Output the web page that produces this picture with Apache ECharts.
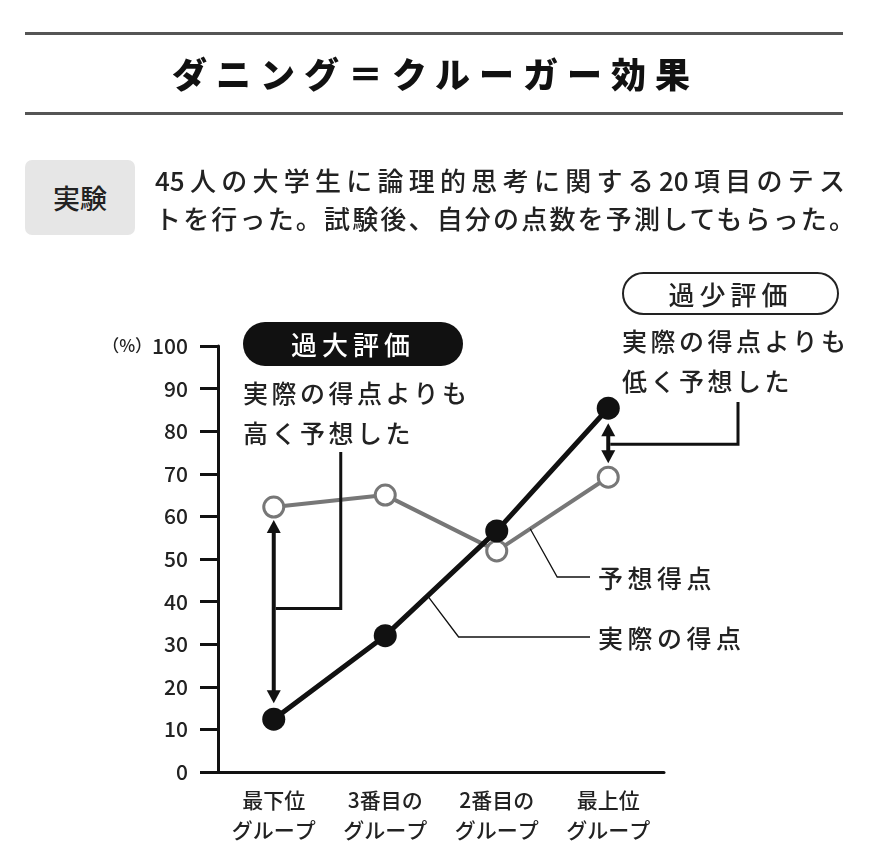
<!DOCTYPE html>
<html>
<head>
    <meta charset="utf-8" />
    <title>ダニング＝クルーガー効果</title>
    <script src="https://cdn.jsdelivr.net/npm/echarts@6/dist/echarts.min.js"></script>
    <style>
        body { margin: 0; background: #fff; }
        #wrap { position: relative; width: 870px; height: 862px; font-family: "Noto Sans CJK JP", sans-serif; color: #222; font-weight: 500; }
        #main { position: absolute; left: 0; top: 0; width: 870px; height: 862px; }
        .hline { position: absolute; left: 25px; width: 818px; height: 3px; background: #555; }
        .txt { position: absolute; white-space: nowrap; pointer-events: none; }
        .just { text-align: justify; text-align-last: justify; }
        #title { left: 172px; top: 51px; width: 518px; font-size: 35px; line-height: 44px; font-weight: 900; color: #111; }
        #expBox { position: absolute; left: 25px; top: 160px; width: 110px; height: 75px; background: #e6e6e6; border-radius: 7px;
                  font-size: 27px; line-height: 75px; text-align: center; }
        .desc { left: 155px; font-size: 26px; line-height: 38px; }
        .note { font-size: 25px; line-height: 36px; letter-spacing: 3.5px; }
        .pill { position: absolute; font-size: 26px; text-align: center; letter-spacing: 5px; box-sizing: border-box; }
        #over { left: 243px; top: 322px; width: 220px; height: 44px; line-height: 44px; background: #111; color: #fff; border-radius: 22px; }
        #under { left: 622px; top: 272px; width: 217px; height: 43px; line-height: 39px; background: #fff; border: 2px solid #222; border-radius: 22px; }
        .lab { font-size: 25px; line-height: 34px; letter-spacing: 4.5px; }
    </style>
</head>
<body>
<div id="wrap">
    <div id="main"></div>
    <div class="hline" style="top:32px"></div>
    <div class="hline" style="top:112px"></div>
    <div id="title" class="txt just">ダニング＝クルーガー効果</div>
    <div id="expBox">実験</div>
    <div class="txt desc just" style="top:161px;width:690px">45人の大学生に論理的思考に関する20項目のテス</div>
    <div class="txt desc just" style="top:199px;width:700px">トを行った。試験後、自分の点数を予測してもらった。</div>
    <div id="over" class="pill">過大評価</div>
    <div class="txt note" style="left:243px;top:374px">実際の得点よりも</div>
    <div class="txt note" style="left:243px;top:414px">高く予想した</div>
    <div id="under" class="pill">過少評価</div>
    <div class="txt note" style="left:622px;top:322px">実際の得点よりも</div>
    <div class="txt note" style="left:622px;top:362px">低く予想した</div>
    <div class="txt lab" style="left:598px;top:560px">予想得点</div>
    <div class="txt lab" style="left:598px;top:620px">実際の得点</div>
</div>
<script>
    // データ
    var categories = ['最下位\nグループ', '3番目の\nグループ', '2番目の\nグループ', '最上位\nグループ'];
    var actualScores = [12.4, 32.0, 56.6, 85.4];     // 実際の得点
    var predictedScores = [62.2, 65.0, 51.9, 69.2];  // 予想得点
    var yMin = 0, yMax = 100, yStep = 10;

    var chart = echarts.init(document.getElementById('main'));
    var font = '"Noto Sans CJK JP", sans-serif';

    chart.setOption({
        animation: false,
        grid: { left: 218, top: 346, width: 446, height: 426 },
        xAxis: [{
            type: 'category',
            data: categories,
            boundaryGap: true,
            axisLine: { lineStyle: { color: '#111', width: 3 } },
            axisTick: { alignWithLabel: true, length: 8, lineStyle: { color: '#111', width: 3 } },
            axisLabel: { margin: 13, fontSize: 21, lineHeight: 30, fontWeight: 500, color: '#222', fontFamily: font }
        }, {
            // 内側の目盛り
            type: 'category',
            data: categories,
            position: 'bottom',
            axisLine: { show: false },
            axisTick: { inside: true, alignWithLabel: true, length: 10, lineStyle: { color: '#111', width: 3 } },
            axisLabel: { show: false }
        }],
        yAxis: {
            type: 'value',
            min: yMin, max: yMax, interval: yStep,
            splitLine: { show: false },
            axisLine: { show: true, lineStyle: { color: '#111', width: 3 } },
            axisTick: { show: true, length: 18, lineStyle: { color: '#111', width: 3 } },
            axisLabel: {
                margin: 30, fontSize: 21, fontWeight: 500, color: '#222', fontFamily: font,
                formatter: function (v) { return v === yMax ? '{u|（%）}' + v : v; },
                rich: { u: { fontSize: 17, fontWeight: 500, color: '#222', fontFamily: font } }
            }
        },
        series: [{
            name: '予想得点',
            type: 'line',
            data: predictedScores,
            symbol: 'circle',
            symbolSize: 20,
            lineStyle: { color: '#777', width: 4 },
            itemStyle: { color: '#fff', borderColor: '#777', borderWidth: 3 },
            z: 3
        }, {
            name: '実際の得点',
            type: 'line',
            data: actualScores,
            symbol: 'circle',
            symbolSize: 23,
            lineStyle: { color: '#111', width: 5 },
            itemStyle: { color: '#111' },
            z: 4
        }]
    });

    // 注釈（矢印・引き出し線）
    function px(i, v) { return chart.convertToPixel({ gridIndex: 0 }, [i, v]); }
    function along(a, b, t) { return [a[0] + (b[0] - a[0]) * t, a[1] + (b[1] - a[1]) * t]; }
    function dblArrow(x, yTop, yBot) {
        var h = 13, w = 7;
        return [
            { type: 'line', z: 50, shape: { x1: x, y1: yTop + h - 2, x2: x, y2: yBot - h + 2 }, style: { stroke: '#111', lineWidth: 4 } },
            { type: 'polygon', z: 50, shape: { points: [[x, yTop], [x - w, yTop + h], [x + w, yTop + h]] }, style: { fill: '#111' } },
            { type: 'polygon', z: 50, shape: { points: [[x, yBot], [x - w, yBot - h], [x + w, yBot - h]] }, style: { fill: '#111' } }
        ];
    }
    function poly(points, width) {
        return { type: 'polyline', z: 50, shape: { points: points }, style: { stroke: '#111', lineWidth: width, fill: null } };
    }

    var a0 = px(0, actualScores[0]), e0 = px(0, predictedScores[0]);
    var a3 = px(3, actualScores[3]), e3 = px(3, predictedScores[3]);
    var leftTop = e0[1] + 13, leftBot = a0[1] - 16;
    var rightTop = a3[1] + 15, rightBot = e3[1] - 14;
    var leftMid = (leftTop + leftBot) / 2 - 3;
    var rightMid = (rightTop + rightBot) / 2 + 1;

    var predStart = along(px(2, predictedScores[2]), px(3, predictedScores[3]), 0.3);
    var actStart = along(px(1, actualScores[1]), px(2, actualScores[2]), 0.38);

    var elements = []
        .concat(dblArrow(a0[0], leftTop, leftBot))
        .concat(dblArrow(a3[0], rightTop, rightBot))
        .concat([
            poly([[a0[0] + 67, 452], [a0[0] + 67, leftMid], [a0[0] + 2, leftMid]], 3),
            poly([[738, 402], [738, rightMid], [a3[0] + 2, rightMid]], 3),
            poly([predStart, [predStart[0] + 27, 577], [590, 577]], 1.3),
            poly([actStart, [actStart[0] + 31, 637], [590, 637]], 1.3)
        ]);

    chart.setOption({ graphic: { elements: elements } });
</script>
</body>
</html>
